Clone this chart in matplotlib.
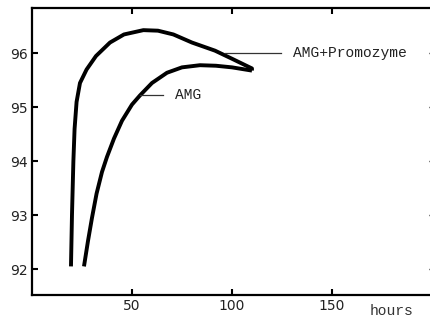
import matplotlib
matplotlib.use("Agg")
import matplotlib.pyplot as plt

# hours vs value
promo_x = [19.5, 20.0, 20.7, 21.3, 22.3, 24.0, 27.3, 32.0, 39.0, 46.0, 55.7, 63.0,
           70.7, 80.0, 91.5, 100.0, 110.0, 110.0]
promo_y = [92.05, 93.0, 94.0, 94.6, 95.1, 95.45, 95.7, 95.95, 96.2, 96.35, 96.43, 96.42,
           96.35, 96.2, 96.05, 95.9, 95.72, 95.68]

amg_x = [26.0, 28.0, 30.0, 32.3, 35.0, 37.5, 41.0, 45.0, 50.0, 54.0, 60.0, 67.5,
         75.0, 84.0, 92.0, 100.0, 110.0]
amg_y = [92.05, 92.52, 92.95, 93.4, 93.8, 94.08, 94.42, 94.75, 95.05, 95.22, 95.45, 95.64,
         95.74, 95.78, 95.77, 95.74, 95.68]

xticks = [50, 100, 150]
yticks = [92, 93, 94, 95, 96]

mono = "Liberation Mono"

fig = plt.figure(figsize=(4.31, 3.21), dpi=100)
ax = fig.add_axes([0.0742, 0.081, 0.928, 0.894])

ax.plot(promo_x, promo_y, color="black", lw=2.8, solid_joinstyle="round",
        solid_capstyle="butt")
ax.plot(amg_x, amg_y, color="black", lw=2.8, solid_joinstyle="round",
        solid_capstyle="butt")

# leader lines and labels
ax.plot([96.5, 124.5], [96.0, 96.0], color="#333333", lw=0.9)
ax.text(130.5, 96.0, "AMG+Promozyme", family=mono, fontsize=10.5, va="center",
        color="#222222")
ax.plot([54, 65.5], [95.23, 95.23], color="#333333", lw=0.9)
ax.text(71.5, 95.23, "AMG", family=mono, fontsize=10.5, va="center", color="#222222")

ax.set_xlim(0, 200)
ax.set_ylim(91.52, 96.84)
ax.set_xticks(xticks)
ax.set_yticks(yticks)
ax.set_xticklabels([str(v) for v in xticks], fontsize=10, color="#222222")
ax.set_yticklabels([str(v) for v in yticks], fontsize=10, color="#222222")
ax.tick_params(direction="in", length=4, width=1.5, top=True, pad=3)
ax.tick_params(axis="y", which="major", right=True, labelright=False)
for s in ["left", "bottom", "top"]:
    ax.spines[s].set_linewidth(1.6)
ax.spines["right"].set_visible(False)
# faint right-hand tick stubs at the scan's edge
for t in ax.yaxis.get_major_ticks():
    t.tick2line.set_color("#aaaaaa")
    t.tick2line.set_markersize(2)
    t.tick2line.set_markeredgewidth(1)

fig.text(0.858, 0.008, "hours", family=mono, fontsize=10.5, va="bottom", color="#333333")

fig.savefig("out.png", dpi=100)
